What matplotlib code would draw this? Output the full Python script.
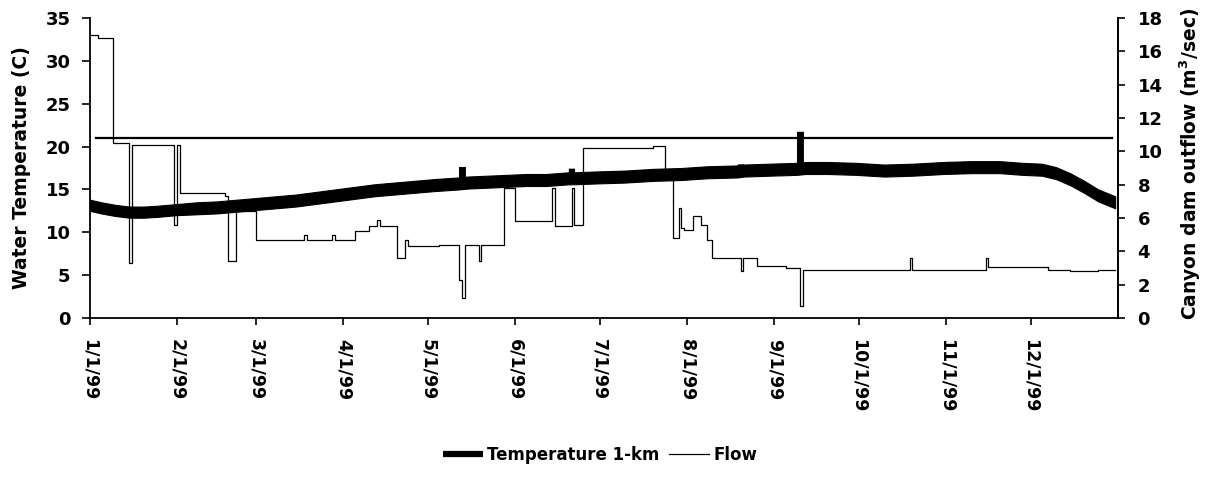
import matplotlib
matplotlib.use("Agg")
import matplotlib.pyplot as plt
import numpy as np
import pandas as pd

plt.rcParams['font.family'] = ['DejaVu Sans']
plt.rcParams['font.weight'] = 'bold'

# ---------------- data ----------------
# Temperature 1-km: centre line (with the short spikes)
temp_dates = ['1999-01-01', '1999-01-05', '1999-01-10', '1999-01-15', '1999-01-20', '1999-01-25',
              '1999-02-01', '1999-02-08', '1999-02-15', '1999-02-22', '1999-03-01', '1999-03-08',
              '1999-03-15', '1999-03-22', '1999-03-29', '1999-04-05', '1999-04-12', '1999-04-19',
              '1999-04-26', '1999-05-03', '1999-05-13 00:00', '1999-05-13 00:01', '1999-05-13 12:00',
              '1999-05-13 12:01', '1999-05-22', '1999-05-29', '1999-06-05', '1999-06-12',
              '1999-06-21 00:00', '1999-06-21 00:01', '1999-06-21 06:00', '1999-06-21 06:01',
              '1999-06-30', '1999-07-10', '1999-07-20', '1999-07-30', '1999-08-08',
              '1999-08-20 00:00', '1999-08-20 00:01', '1999-08-20 06:00', '1999-08-20 06:01',
              '1999-08-30', '1999-09-10 00:00', '1999-09-10 00:01', '1999-09-10 12:00',
              '1999-09-10 12:01', '1999-09-20', '1999-09-30', '1999-10-10', '1999-10-20',
              '1999-10-31', '1999-11-10', '1999-11-20', '1999-11-28', '1999-12-05', '1999-12-10',
              '1999-12-15', '1999-12-20', '1999-12-25', '1999-12-31']
temp_values = [13.2, 12.9, 12.6, 12.4, 12.4, 12.5,
               12.7, 12.8, 12.9, 13.1, 13.3, 13.5,
               13.7, 14.0, 14.3, 14.6, 14.9, 15.1,
               15.3, 15.5, 15.7, 17.3, 17.3,
               15.8, 15.9, 16.0, 16.1, 16.1,
               16.3, 17.1, 17.1, 16.3,
               16.4, 16.5, 16.7, 16.8, 17.0,
               17.1, 17.6, 17.6, 17.2,
               17.3, 17.4, 21.4, 21.4,
               17.5, 17.5, 17.4, 17.2, 17.3,
               17.5, 17.6, 17.6, 17.4, 17.3, 16.9,
               16.2, 15.3, 14.3, 13.5]

# Temperature 1-km: daily range band (upper and lower edge)
band_dates = ['1999-01-01', '1999-01-05', '1999-01-10', '1999-01-15', '1999-01-20', '1999-01-25',
              '1999-02-01', '1999-02-08', '1999-02-15', '1999-02-22', '1999-03-01', '1999-03-08',
              '1999-03-15', '1999-03-22', '1999-03-29', '1999-04-05', '1999-04-12', '1999-04-19',
              '1999-04-26', '1999-05-03', '1999-05-12', '1999-05-15', '1999-05-22', '1999-05-29',
              '1999-06-05', '1999-06-12', '1999-06-20', '1999-06-22', '1999-06-30', '1999-07-10',
              '1999-07-20', '1999-07-30', '1999-08-08', '1999-08-19', '1999-08-21', '1999-08-30',
              '1999-09-09', '1999-09-12', '1999-09-20', '1999-09-30', '1999-10-10', '1999-10-20',
              '1999-10-31', '1999-11-10', '1999-11-20', '1999-11-28', '1999-12-05', '1999-12-10',
              '1999-12-15', '1999-12-20', '1999-12-25', '1999-12-31']
band_high = [13.8, 13.5, 13.2, 13.0, 13.0, 13.1, 13.3, 13.5, 13.6, 13.8, 14.0, 14.2,
             14.4, 14.7, 15.0, 15.3, 15.6, 15.8, 16.0, 16.2, 16.4, 16.5, 16.6, 16.7,
             16.8, 16.8, 17.0, 17.0, 17.1, 17.2, 17.4, 17.5, 17.7, 17.8, 17.9, 18.0,
             18.1, 18.2, 18.2, 18.1, 17.9, 18.0, 18.2, 18.3, 18.3, 18.1, 18.0, 17.6,
             16.9, 16.0, 15.0, 14.2]
band_low = [12.5, 12.2, 11.9, 11.7, 11.7, 11.8, 12.0, 12.1, 12.2, 12.4, 12.6, 12.8,
            13.0, 13.3, 13.6, 13.9, 14.2, 14.4, 14.6, 14.8, 15.0, 15.1, 15.2, 15.3,
            15.4, 15.4, 15.6, 15.6, 15.7, 15.8, 16.0, 16.1, 16.3, 16.4, 16.5, 16.6,
            16.7, 16.8, 16.8, 16.7, 16.5, 16.6, 16.8, 16.9, 16.9, 16.7, 16.6, 16.2,
            15.5, 14.6, 13.6, 12.8]

# Canyon dam outflow (m3/s), step series
flow_dates = ['1999-01-01', '1999-01-04', '1999-01-09', '1999-01-15', '1999-01-16', '1999-01-31',
              '1999-02-01', '1999-02-02', '1999-02-18', '1999-02-19', '1999-02-22', '1999-03-01',
              '1999-03-18', '1999-03-19', '1999-03-28', '1999-03-29', '1999-04-05', '1999-04-10',
              '1999-04-13', '1999-04-14', '1999-04-20', '1999-04-23', '1999-04-24', '1999-05-05',
              '1999-05-12', '1999-05-13', '1999-05-14', '1999-05-19', '1999-05-20', '1999-05-28',
              '1999-06-01', '1999-06-14', '1999-06-15', '1999-06-21', '1999-06-22', '1999-06-25',
              '1999-07-20', '1999-07-24', '1999-07-27', '1999-07-29', '1999-07-30', '1999-07-31',
              '1999-08-03', '1999-08-06', '1999-08-08', '1999-08-10', '1999-08-20', '1999-08-21',
              '1999-08-26', '1999-09-05', '1999-09-10', '1999-09-11', '1999-10-19', '1999-10-20',
              '1999-11-15', '1999-11-16', '1999-12-07', '1999-12-15', '1999-12-25', '1999-12-31']
flow_values = [17.0, 16.8, 10.5, 3.3, 10.4, 5.6,
               10.4, 7.5, 7.3, 3.4, 6.4, 4.7,
               5.0, 4.7, 5.0, 4.7, 5.2, 5.5,
               5.9, 5.5, 3.6, 4.7, 4.3, 4.4,
               2.3, 1.2, 4.4, 3.4, 4.4, 7.8,
               5.8, 7.8, 5.5, 7.8, 5.6, 10.2,
               10.3, 8.4, 4.8, 6.6, 5.4, 5.3,
               6.1, 5.6, 4.7, 3.6, 2.8, 3.6,
               3.1, 3.0, 0.7, 2.9, 3.6, 2.9,
               3.6, 3.05, 2.9, 2.8, 2.9, 2.9]

ref_dates = ['1999-01-03', '1999-12-30']
ref_values = [21, 21]

tick_dates = ['1999-01-01', '1999-02-01', '1999-03-01', '1999-04-01', '1999-05-01', '1999-06-01',
              '1999-07-01', '1999-08-01', '1999-09-01', '1999-10-01', '1999-11-01', '1999-12-01']
tick_labels = ['1/1/99', '2/1/99', '3/1/99', '4/1/99', '5/1/99', '6/1/99',
               '7/1/99', '8/1/99', '9/1/99', '10/1/99', '11/1/99', '12/1/99']

# ---------------- plot ----------------
W, H = 1213, 479
fig = plt.figure(figsize=(W / 100, H / 100), dpi=100)
L, R, T, B = 90, 1118, 18, 318
ax = fig.add_axes([L / W, 1 - B / H, (R - L) / W, (B - T) / H])
ax2 = ax.twinx()

td = pd.to_datetime(temp_dates, format='mixed')
bd = pd.to_datetime(band_dates, format='mixed')
fd = pd.to_datetime(flow_dates, format='mixed')
rd = pd.to_datetime(ref_dates, format='mixed')

ax.fill_between(bd, band_low, band_high, color='black', lw=0.8, edgecolor='black', zorder=3)
ln_t, = ax.plot(td, temp_values, color='black', lw=4, solid_joinstyle='miter',
                solid_capstyle='butt', label='Temperature 1-km', zorder=3)
ax.plot(rd, ref_values, color='black', lw=1.6, zorder=2)
ln_f, = ax2.step(fd, flow_values, where='post', color='black', lw=0.9, label='Flow', zorder=4)

ax.set_xlim(pd.Timestamp('1999-01-01'), pd.Timestamp('2000-01-01'))
ax.set_ylim(0, 35)
ax2.set_ylim(0, 18)
ax.set_yticks(np.arange(0, 36, 5))
ax2.set_yticks(np.arange(0, 19, 2))
ax.set_xticks(pd.to_datetime(tick_dates))
ax.set_xticklabels(tick_labels, rotation=-90, fontsize=12.5, fontweight='bold', va='top', ha='center')

for a in (ax, ax2):
    a.spines['top'].set_visible(False)
    for s in a.spines.values():
        s.set_linewidth(1.3)
ax2.spines['left'].set_visible(False)
ax2.spines['bottom'].set_visible(False)

ax.tick_params(axis='y', direction='out', length=6, width=1.2, pad=8, labelsize=13)
ax.tick_params(axis='x', direction='out', length=5, width=1.2, pad=10)
ax2.tick_params(axis='y', direction='out', length=5, width=1.2, pad=9, labelsize=13)
for lbl in ax.get_yticklabels() + ax2.get_yticklabels():
    lbl.set_fontweight('bold')

ax.set_ylabel('Water Temperature (C)', fontsize=13.5, fontweight='bold')
ax.yaxis.label.set_va('center')
ax.yaxis.set_label_coords((22 - L) / (R - L), 0.5)
ax2.set_ylabel(r'Canyon dam outflow (m$^{\mathbf{3}}$/sec)', fontsize=13.5, fontweight='bold')
ax2.yaxis.label.set_va('center')
ax2.yaxis.set_label_coords((1190 - L) / (R - L), 0.515)

leg = fig.legend(handles=[ln_t, ln_f], loc='center', bbox_to_anchor=(600 / W, 1 - 455 / H),
                 ncol=2, frameon=False, fontsize=12, handlelength=2.4, handletextpad=0.25,
                 columnspacing=0.6)
leg.legend_handles[0].set_linewidth(4.5)
for t in leg.get_texts():
    t.set_fontweight('bold')

fig.savefig('out.png', dpi=100)
